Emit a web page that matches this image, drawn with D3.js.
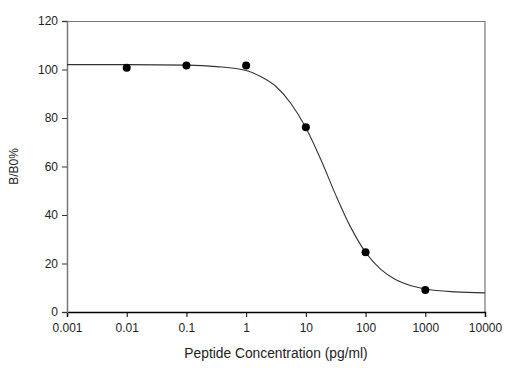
<!DOCTYPE html>
<html>
<head>
<meta charset="utf-8">
<script src="https://cdn.jsdelivr.net/npm/d3@7"></script>
<style>
  body { margin: 0; background: #fff; }
  text { font-family: "Liberation Sans", Arial, sans-serif; fill: #222; }
</style>
</head>
<body>
<div id="container"></div>
<script>
// measured points (concentration, B/B0%)
let pointConc = [0.01, 0.1, 1, 10, 100, 1000];
let pointValue = [100.7, 101.6, 101.6, 76.2, 24.6, 9.1];

// fitted curve
let curveConc = [0.001, 0.01, 0.1, 0.316, 1, 1.78, 3.16, 5.62, 10, 17.8, 31.6, 56.2, 100, 178, 316, 562, 1000, 3162, 10000];
let curveValue = [102.0, 102.0, 101.8, 101.2, 99.6, 97.0, 93.0, 86.0, 76.0, 62.9, 48.3, 35.0, 24.6, 17.7, 13.4, 10.9, 9.5, 8.3, 7.9];

let xTicks = [0.001, 0.01, 0.1, 1, 10, 100, 1000, 10000];
let xTickLabels = ["0.001", "0.01", "0.1", "1", "10", "100", "1000", "10000"];
let yTicks = [0, 20, 40, 60, 80, 100, 120];

let margin = {top: 21, right: 44, bottom: 64, left: 67};
let width = 529 - margin.left - margin.right,
    height = 376 - margin.top - margin.bottom;

let svg = d3.select("#container").append("svg")
    .attr("width", 529)
    .attr("height", 376)
    .append("g")
    .attr("transform", "translate(" + margin.left + "," + margin.top + ")");

let x = d3.scaleLog()
    .domain([0.001, 10000])
    .range([0, width]);

let y = d3.scaleLinear()
    .domain([0, 120])
    .range([height, 0]);

// frame: top and right lines
svg.append("path")
    .attr("d", "M0,0.5H" + width + "V" + height)
    .attr("fill", "none")
    .attr("stroke", "#777")
    .attr("stroke-width", 1.2);

let xAxis = svg.append("g")
    .attr("transform", "translate(0," + height + ")")
    .call(d3.axisBottom(x)
        .tickValues(xTicks)
        .tickFormat(function(d, i) { return xTickLabels[i]; })
        .tickSizeOuter(0)
        .tickSize(5)
        .tickPadding(6));
xAxis.select(".domain").attr("stroke", "#000").attr("stroke-width", 1.5);
xAxis.selectAll("line").attr("stroke", "#000");
xAxis.selectAll("text").style("font-size", "12px");

let yAxis = svg.append("g")
    .call(d3.axisLeft(y)
        .tickValues(yTicks)
        .tickSizeOuter(0)
        .tickSize(5)
        .tickPadding(4));
yAxis.select(".domain").attr("stroke", "#777").attr("stroke-width", 1.5);
yAxis.selectAll("line").attr("stroke", "#333");
yAxis.selectAll("text").style("font-size", "12px");

let line = d3.line()
    .x(function(d, i) { return x(curveConc[i]); })
    .y(function(d) { return y(d); })
    .curve(d3.curveMonotoneX);

svg.append("path")
    .datum(curveValue)
    .attr("d", line)
    .attr("fill", "none")
    .attr("stroke", "#333")
    .attr("stroke-width", 1.1);

svg.selectAll(".dot")
    .data(pointValue)
    .enter().append("circle")
    .attr("class", "dot")
    .attr("cx", function(d, i) { return x(pointConc[i]); })
    .attr("cy", function(d) { return y(d); })
    .attr("r", 4)
    .attr("fill", "#000");

svg.append("text")
    .attr("x", width / 2)
    .attr("y", height + 46)
    .attr("text-anchor", "middle")
    .style("font-size", "13.8px")
    .text("Peptide Concentration (pg/ml)");

svg.append("text")
    .attr("transform", "translate(" + (-49) + "," + (height / 2) + ") rotate(-90)")
    .attr("text-anchor", "middle")
    .style("font-size", "12px")
    .text("B/B0%");
</script>
</body>
</html>
